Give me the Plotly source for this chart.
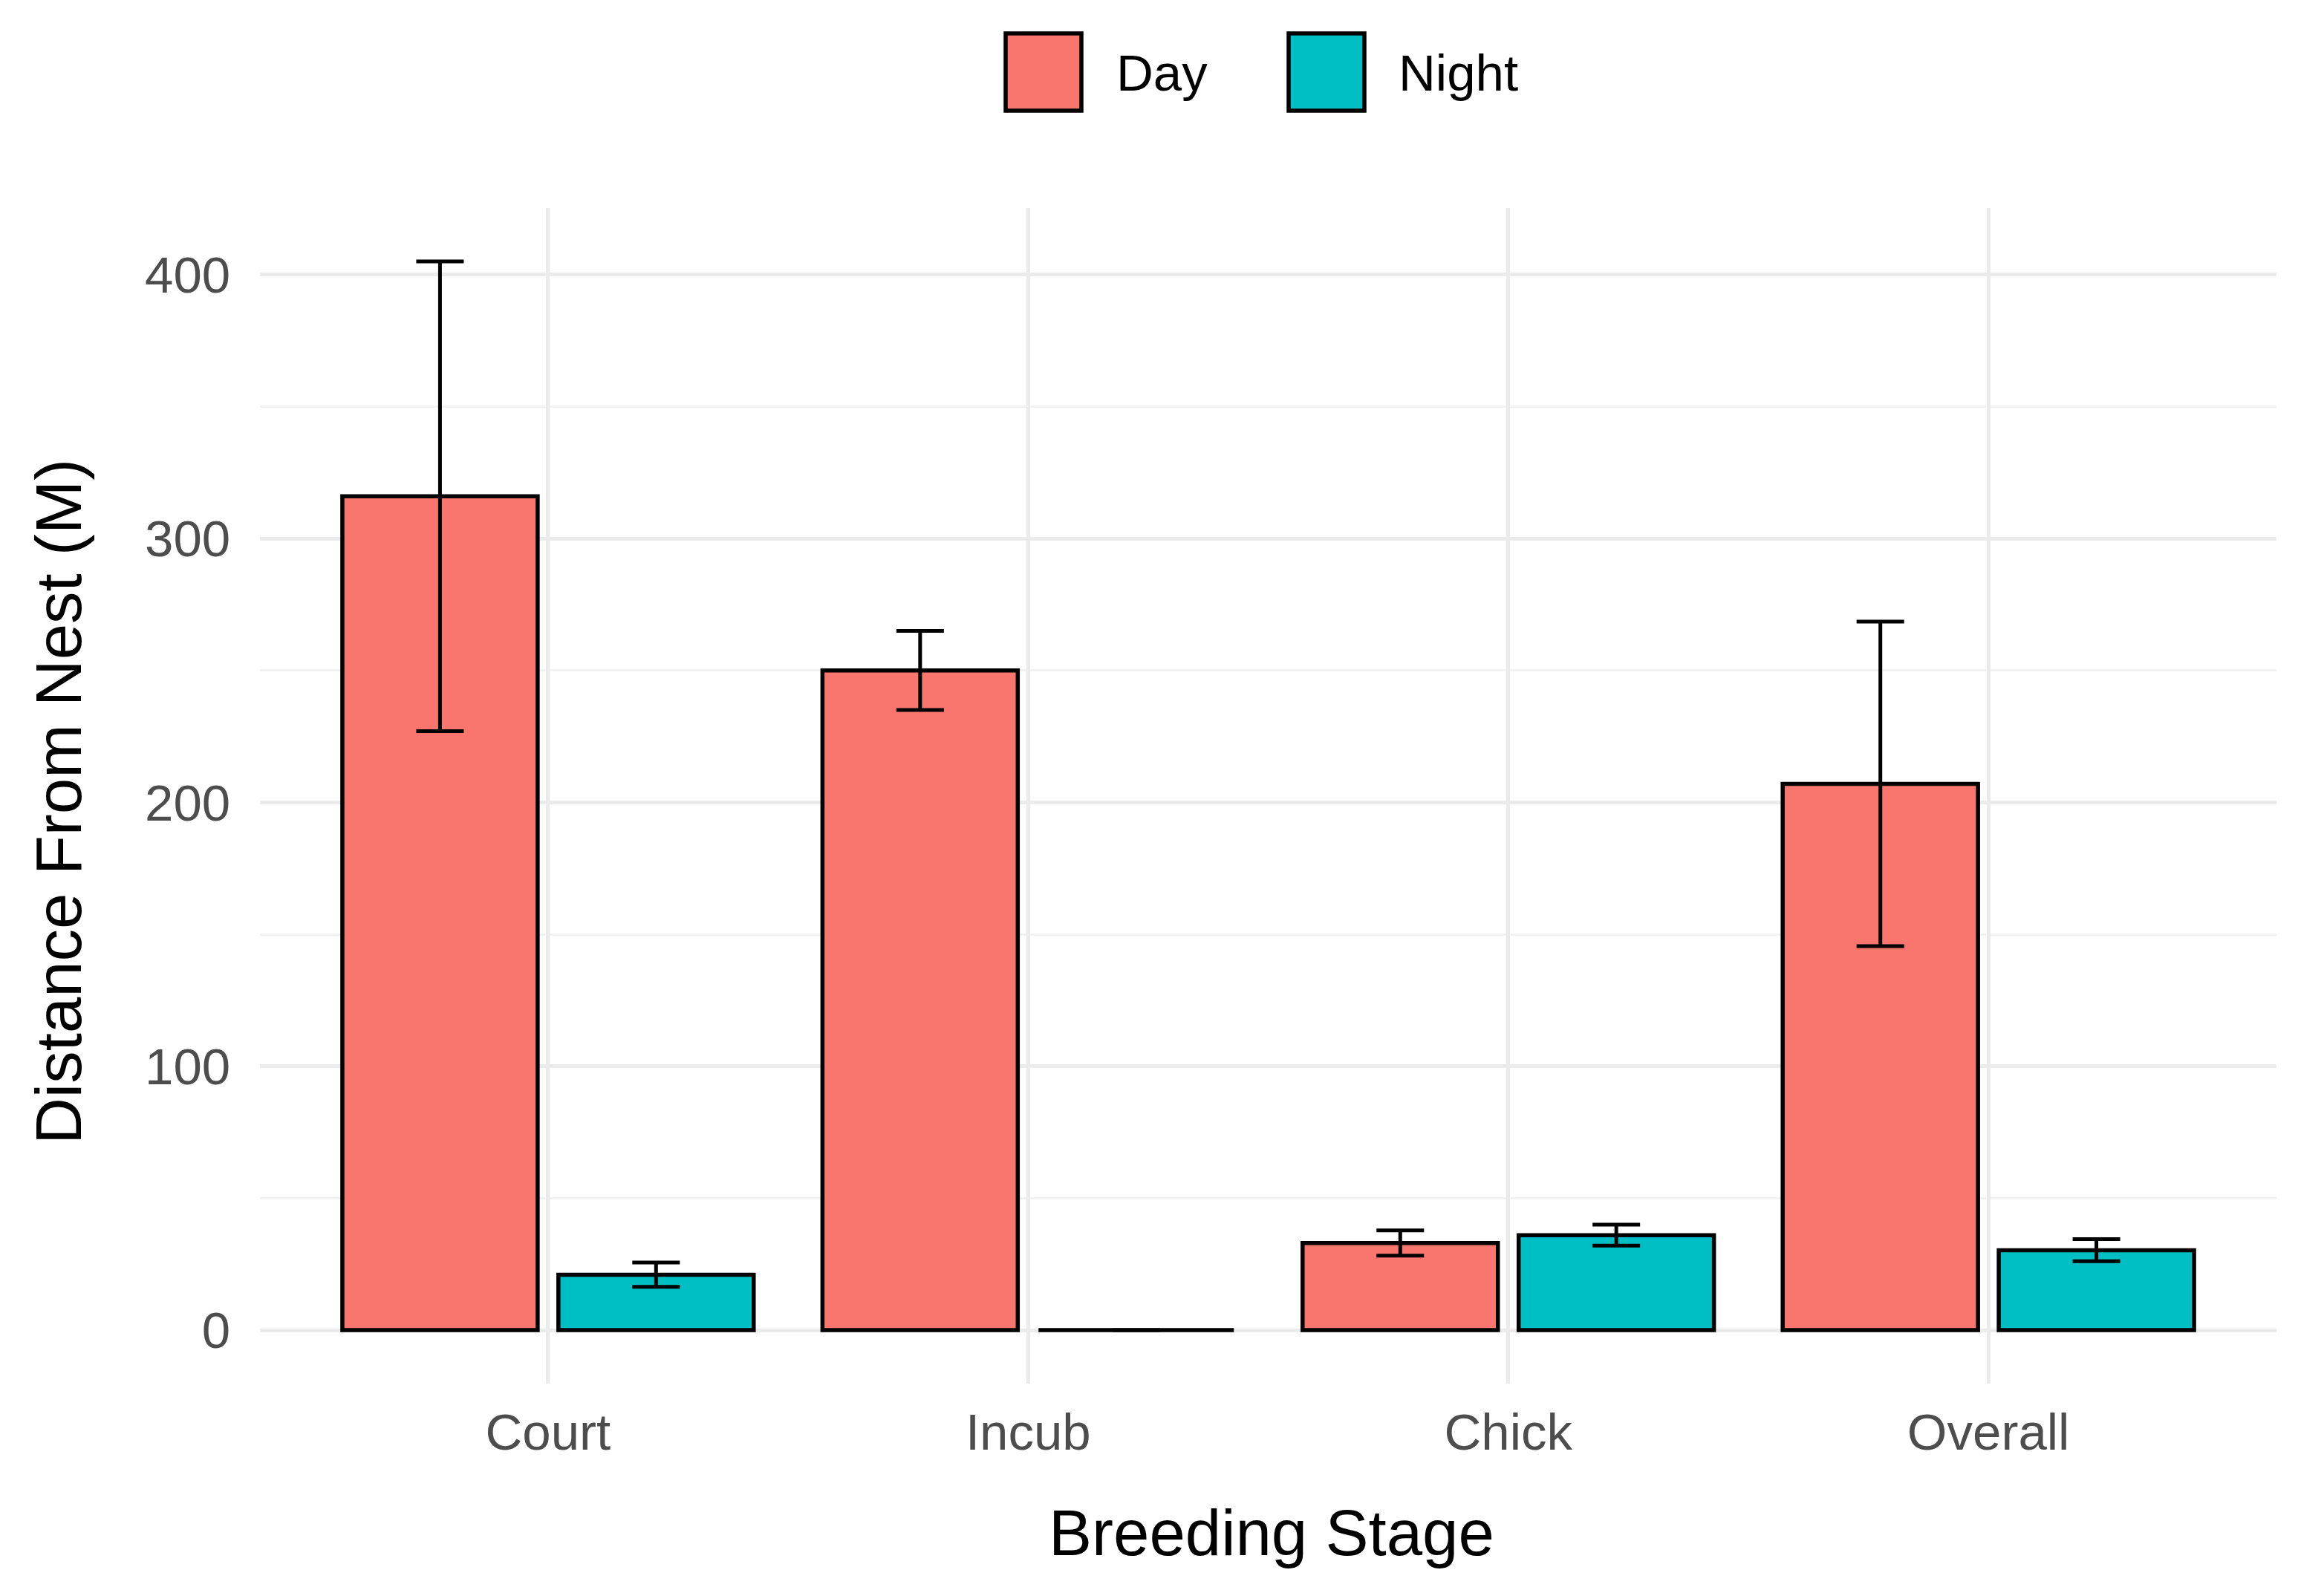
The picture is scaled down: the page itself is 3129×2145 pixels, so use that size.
import plotly.graph_objects as go

# ---- data ----
stages = ["Court", "Incub", "Chick", "Overall"]
day_mean = [316, 250, 33, 207]
day_se = [89, 15, 4.8, 61.5]
night_mean = [21, 0, 36, 30.3]
night_se = [4.6, None, 4.0, 4.2]
series_names = ["Day", "Night"]
series_colors = ["#F8766D", "#00BFC4"]
y_ticks = [0, 100, 200, 300, 400]

W, H = 3129, 2145
OFF = 8  # page body margin offset
L, R, T, B = 342, 72, 272, 290
font = "Liberation Sans, Arial, Helvetica, sans-serif"

fig = go.Figure()
for name, color, mean, se in zip(series_names, series_colors,
                                 [day_mean, night_mean], [day_se, night_se]):
    fig.add_trace(go.Bar(
        x=stages, y=mean, name=name,
        marker=dict(color=color, line=dict(color="black", width=5.5)),
        error_y=dict(type="data", array=se, visible=True,
                     color="black", thickness=5, width=32),
        showlegend=False,
    ))

pw = W - L - R
ph = H - T - B
def px_x(p):
    return (p - OFF - L) / pw
def px_y(p):
    return (H - B - (p - OFF)) / ph

# custom legend (large keys like ggplot)
key_x = [1354, 1735]
txt_x = [1501, 1881]
shapes = []
annotations = []
for name, color, kx, tx in zip(series_names, series_colors, key_x, txt_x):
    shapes.append(dict(type="rect", xref="paper", yref="paper",
                       x0=px_x(kx), x1=px_x(kx + 102),
                       y0=px_y(149), y1=px_y(45),
                       fillcolor=color, line=dict(color="black", width=5.5)))
    annotations.append(dict(text=name, xref="paper", yref="paper",
                            x=px_x(tx), y=px_y(98), xanchor="left",
                            yanchor="middle", showarrow=False,
                            font=dict(family=font, size=69, color="black")))

annotations.append(dict(text="Breeding Stage", xref="paper", yref="paper",
                        x=px_x(1712), y=px_y(2063), xanchor="center",
                        yanchor="middle", showarrow=False,
                        font=dict(family=font, size=87, color="black")))
annotations.append(dict(text="Distance From Nest (M)", xref="paper", yref="paper",
                        x=px_x(78), y=px_y(1080), xanchor="center",
                        yanchor="middle", showarrow=False, textangle=-90,
                        font=dict(family=font, size=87, color="black")))

fig.update_layout(
    width=W, height=H,
    margin=dict(l=L, r=R, t=T, b=B),
    paper_bgcolor="white", plot_bgcolor="white",
    barmode="group", bargap=0.1, bargroupgap=0.096,
    shapes=shapes, annotations=annotations,
    showlegend=False,
    font=dict(family=font),
)
fig.update_xaxes(
    range=[-0.6, 3.6], showgrid=True, gridcolor="#EBEBEB", gridwidth=5,
    showline=False, zeroline=False, ticks="", ticklabelstandoff=19,
    tickfont=dict(family=font, size=69, color="#4D4D4D"),
)
fig.update_yaxes(
    range=[-20.25, 425.3], tickvals=y_ticks,
    showgrid=True, gridcolor="#EBEBEB", gridwidth=5,
    minor=dict(dtick=50, showgrid=True, gridcolor="#F2F2F2", gridwidth=3),
    showline=False, zeroline=False,
    ticks="outside", ticklen=25, tickcolor="rgba(0,0,0,0)",
    tickfont=dict(family=font, size=69, color="#4D4D4D"),
)

fig.write_html("out.html")
